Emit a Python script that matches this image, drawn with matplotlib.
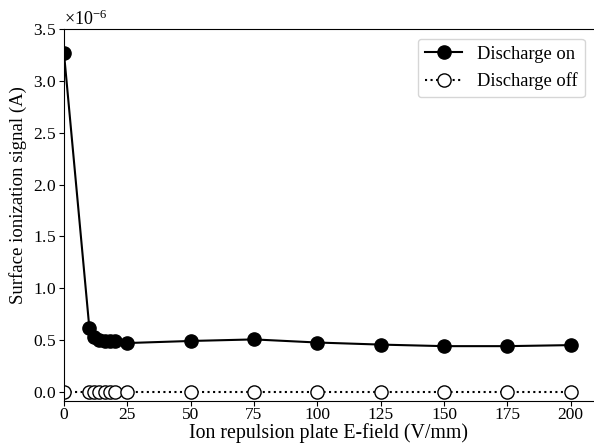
import matplotlib
matplotlib.use("Agg")
import matplotlib.pyplot as plt
import numpy as np

plt.rcParams['font.family'] = ['Liberation Serif', 'DejaVu Serif']
plt.rcParams['mathtext.fontset'] = 'custom'
plt.rcParams['mathtext.rm'] = 'Liberation Serif'
plt.rcParams['mathtext.it'] = 'Liberation Serif:italic'

field = [0, 10, 12, 14, 16, 18, 20, 25, 50, 75, 100, 125, 150, 175, 200]
signal_on = [3.27, 0.62, 0.53, 0.50, 0.49, 0.49, 0.49, 0.47, 0.49, 0.505, 0.475, 0.455, 0.44, 0.44, 0.45]
signal_off = [0.0] * len(field)
scale = 1e-6

fig = plt.figure(figsize=(5.94, 4.47), dpi=100)
ax = fig.add_axes([0.1077, 0.104, 0.8923, 0.8305])

ax.plot(field, np.array(signal_on) * scale, '-o', color='black', lw=1.5,
        markersize=9.5, label='Discharge on')
ax.plot(field, np.array(signal_off) * scale, ':o', color='black', lw=1.5,
        markersize=9.5, markerfacecolor='white', markeredgecolor='black',
        markeredgewidth=1.0, label='Discharge off')

ax.set_xlim(0, 209.2)
ax.set_ylim(-0.085e-6, 3.5e-6)
ax.set_xticks([0, 25, 50, 75, 100, 125, 150, 175, 200])
ax.set_yticks(np.arange(0, 3.51, 0.5) * scale)
ax.ticklabel_format(axis='y', style='sci', scilimits=(0, 0), useMathText=True)
ax.spines['right'].set_visible(False)
ax.tick_params(labelsize=12.5, pad=2, length=3.5)
ax.tick_params(axis='x', pad=1.0)
ax.yaxis.get_offset_text().set_fontsize(13)

ax.set_xlabel('Ion repulsion plate E-field (V/mm)', fontsize=14.3)
ax.xaxis.set_label_coords(0.5, -0.061)
ax.set_ylabel('Surface ionization signal (A)', fontsize=13.5)
ax.yaxis.set_label_coords(-0.07, 0.553)
ax.legend(loc='upper right', fontsize=13.3, handlelength=2.0, borderaxespad=0.5)

fig.savefig('out.png', dpi=100)
